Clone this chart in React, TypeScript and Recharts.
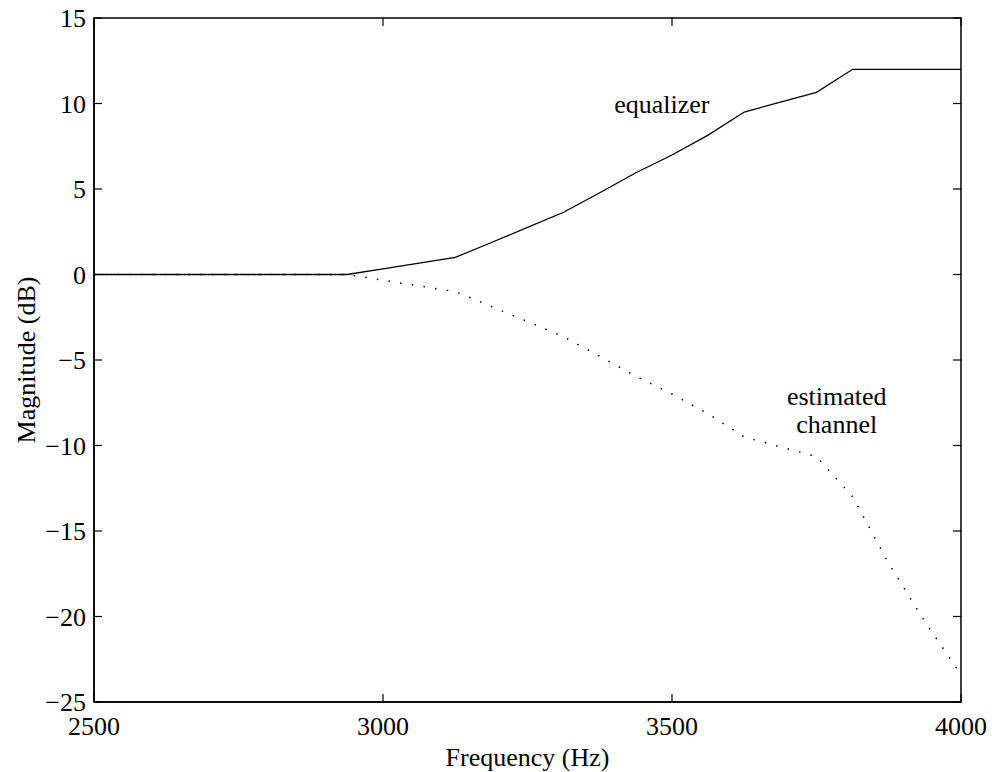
import React from 'react';
import { LineChart, Line, XAxis, YAxis, ReferenceDot, ReferenceArea } from 'recharts';

const frequencies = [2500, 2562.5, 2625, 2687.5, 2750, 2812.5, 2875, 2937.5, 3000, 3062.5, 3125, 3187.5, 3250, 3312.5, 3375, 3437.5, 3500, 3562.5, 3625, 3687.5, 3750, 3812.5, 3875, 3937.5, 4000];
const equalizerDb = [0, 0, 0, 0, 0, 0, 0, 0, 0.33, 0.67, 1.0, 1.87, 2.75, 3.64, 4.78, 5.95, 6.99, 8.15, 9.5, 10.08, 10.65, 12, 12, 12, 12];
const channelDb = [0, 0, 0, 0, 0, 0, 0, 0, -0.33, -0.67, -1.0, -1.87, -2.75, -3.64, -4.78, -5.95, -6.99, -8.15, -9.5, -10.08, -10.65, -13.0, -16.9, -20.3, -23.4];
const xTicks = [2500, 3000, 3500, 4000];
const yTicks = [-25, -20, -15, -10, -5, 0, 5, 10, 15];

const data = frequencies.map((f, i) => ({ f, eq: equalizerDb[i], ch: channelDb[i] }));

const W = 992;
const H = 772;
const MARGIN = { top: 18, right: 31, left: 0, bottom: 0 };
const Y_AXIS_W = 94;
const X_AXIS_H = 70;
const PLOT_LEFT = MARGIN.left + Y_AXIS_W;
const PLOT_RIGHT = W - MARGIN.right;
const PLOT_TOP = MARGIN.top;
const PLOT_BOTTOM = H - MARGIN.bottom - X_AXIS_H;
const TICK_LEN = 8;

const FONT = "'Liberation Serif', 'Times New Roman', serif";
const FS = 26;
const fmtY = (v: number) => (v < 0 ? `\u2212${Math.abs(v)}` : `${v}`);

const XTick = (p: any) => {
  const x = p.x;
  return (
    <g>
      <line x1={x} x2={x} y1={PLOT_BOTTOM} y2={PLOT_BOTTOM - TICK_LEN} stroke="#000" strokeWidth={1.2} />
      <line x1={x} x2={x} y1={PLOT_TOP} y2={PLOT_TOP + TICK_LEN} stroke="#000" strokeWidth={1.2} />
      <text x={x} y={PLOT_BOTTOM + 33} textAnchor="middle" fontFamily={FONT} fontSize={FS} fill="#000">
        {p.payload.value}
      </text>
    </g>
  );
};

const YTick = (p: any) => {
  const y = p.y;
  return (
    <g>
      <line x1={PLOT_LEFT} x2={PLOT_LEFT + TICK_LEN} y1={y} y2={y} stroke="#000" strokeWidth={1.2} />
      <line x1={PLOT_RIGHT} x2={PLOT_RIGHT - TICK_LEN} y1={y} y2={y} stroke="#000" strokeWidth={1.2} />
      <text x={PLOT_LEFT - 8} y={y + 9} textAnchor="end" fontFamily={FONT} fontSize={FS} fill="#000">
        {fmtY(p.payload.value)}
      </text>
    </g>
  );
};

export default function App() {
  return (
    <div style={{ position: 'absolute', left: 0, top: 0, width: W, height: H, background: '#fff' }}>
      <LineChart width={W} height={H} data={data} margin={MARGIN}>
        <ReferenceArea
          x1={2500}
          x2={4000}
          y1={-25}
          y2={15}
          fill="none"
          fillOpacity={0}
          stroke="#000"
          strokeWidth={1.5}
          strokeOpacity={1}
        />
        <XAxis
          dataKey="f"
          type="number"
          domain={[2500, 4000]}
          ticks={xTicks}
          allowDataOverflow
          height={X_AXIS_H}
          tick={<XTick />}
          tickLine={false}
          axisLine={{ stroke: '#000', strokeWidth: 1.5 }}
          label={() => (
            <text x={(PLOT_LEFT + PLOT_RIGHT) / 2} y={766} textAnchor="middle" fontFamily={FONT} fontSize={FS} fill="#000">
              Frequency (Hz)
            </text>
          )}
        />
        <YAxis
          type="number"
          domain={[-25, 15]}
          ticks={yTicks}
          allowDataOverflow
          width={Y_AXIS_W}
          tick={<YTick />}
          tickLine={false}
          axisLine={{ stroke: '#000', strokeWidth: 1.5 }}
          label={() => (
            <text
              x={35}
              y={(PLOT_TOP + PLOT_BOTTOM) / 2}
              transform={`rotate(-90, 35, ${(PLOT_TOP + PLOT_BOTTOM) / 2})`}
              textAnchor="middle"
              fontFamily={FONT}
              fontSize={FS}
              fill="#000"
            >
              Magnitude (dB)
            </text>
          )}
        />
        <Line
          dataKey="ch"
          stroke="#000"
          strokeWidth={1.5}
          strokeDasharray="1.5 10.3"
          dot={false}
          activeDot={false}
          isAnimationActive={false}
        />
        <Line
          dataKey="eq"
          stroke="#000"
          strokeWidth={1.3}
          dot={false}
          activeDot={false}
          isAnimationActive={false}
        />
        <ReferenceDot
          x={3400}
          y={10}
          r={0}
          fill="none"
          stroke="none"
          label={(p: any) => (
            <text x={p.viewBox.x} y={p.viewBox.y + 9.5} textAnchor="start" fontFamily={FONT} fontSize={FS} fill="#000">
              equalizer
            </text>
          )}
        />
        <ReferenceDot
          x={3785}
          y={-8}
          r={0}
          fill="none"
          stroke="none"
          label={(p: any) => (
            <text textAnchor="middle" fontFamily={FONT} fontSize={FS} fill="#000">
              <tspan x={p.viewBox.x} y={p.viewBox.y - 6}>estimated</tspan>
              <tspan x={p.viewBox.x} y={p.viewBox.y + 22}>channel</tspan>
            </text>
          )}
        />
      </LineChart>
    </div>
  );
}
